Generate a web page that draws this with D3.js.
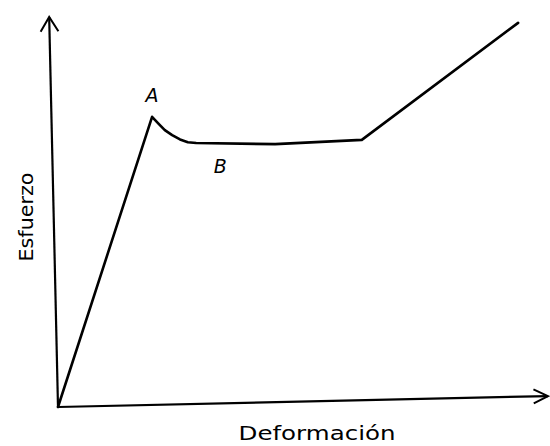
<!DOCTYPE html>
<html><head><meta charset="utf-8">
<script src="https://cdn.jsdelivr.net/npm/d3@7"></script>
<style>body{margin:0;background:#fff}svg{display:block}</style>
</head><body>
<script>
// Data (deformation, stress) in arbitrary units
const deformation = [0, 19.2, 20.4, 21.8, 23.3, 24.9, 26.5, 28.2, 44.3, 62.0, 93.9];
const stress      = [0, 74.4, 72.8, 71.0, 69.7, 68.6, 67.9, 67.7, 67.4, 68.5, 98.5];
const pointLabels = ["A", "B"];
const labelDeformation = [19.2, 33.1];
const labelStress = [78.2, 60.0];
const xAxisTitle = "Deformación";
const yAxisTitle = "Esfuerzo";
// Axis lines (hand-drawn, slightly tilted)
const xAxisEnds = [[0, 0], [100, 2.8]];
const yAxisEnds = [[0, 0], [-1.8, 100]];

const W = 550, H = 446;
const svg = d3.select("body").append("svg").attr("width", W).attr("height", H);
const x = d3.scaleLinear().domain([0, 100]).range([58, 548]);
const y = d3.scaleLinear().domain([0, 100]).range([407, 17]);

const line = d3.line().x(d => x(d[0])).y(d => y(d[1]));

// axes
svg.append("path").attr("d", line(xAxisEnds)).attr("stroke", "#000").attr("stroke-width", 2.2).attr("fill", "none");
svg.append("path").attr("d", line(yAxisEnds)).attr("stroke", "#000").attr("stroke-width", 2.2).attr("fill", "none");

// arrowheads
function arrow(ends, len, spread) {
  const [p0, p1] = ends.map(d => [x(d[0]), y(d[1])]);
  const ang = Math.atan2(p1[1] - p0[1], p1[0] - p0[0]);
  const a1 = ang + Math.PI - spread, a2 = ang + Math.PI + spread;
  const pts = [[p1[0] + len * Math.cos(a1), p1[1] + len * Math.sin(a1)], p1,
               [p1[0] + len * Math.cos(a2), p1[1] + len * Math.sin(a2)]];
  svg.append("path").attr("d", d3.line()(pts)).attr("stroke", "#000")
    .attr("stroke-width", 2).attr("fill", "none").attr("stroke-linejoin", "miter");
}
arrow(xAxisEnds, 16, 0.45);
arrow(yAxisEnds, 17, 0.55);

// curve
const pts = deformation.map((d, i) => [d, stress[i]]);
svg.append("path").attr("d", line(pts)).attr("stroke", "#000").attr("stroke-width", 2.6)
  .attr("fill", "none").attr("stroke-linejoin", "round").attr("stroke-linecap", "round");

// point labels
svg.selectAll("text.pl").data(pointLabels).join("text").attr("class", "pl")
  .attr("x", (d, i) => x(labelDeformation[i])).attr("y", (d, i) => y(labelStress[i]))
  .attr("text-anchor", "middle").attr("font-family", "DejaVu Sans, sans-serif")
  .attr("font-style", "italic").attr("font-size", 19).text(d => d);

// axis titles
svg.append("text").attr("x", 317).attr("y", 440).attr("text-anchor", "middle")
  .attr("font-family", "DejaVu Sans, sans-serif").attr("font-size", 19)
  .attr("textLength", 157).attr("lengthAdjust", "spacingAndGlyphs").text(xAxisTitle);
svg.append("text").attr("transform", "translate(33,217) rotate(-90)").attr("text-anchor", "middle")
  .attr("font-family", "DejaVu Sans, sans-serif").attr("font-size", 20)
  .attr("textLength", 89).attr("lengthAdjust", "spacingAndGlyphs").text(yAxisTitle);
</script>
</body></html>
